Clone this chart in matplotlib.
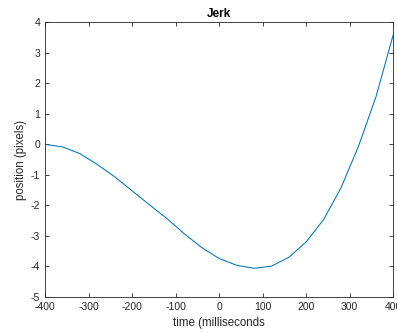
import matplotlib
matplotlib.use("Agg")
import matplotlib.pyplot as plt

# sampled every 40 ms
time_ms = [-400, -360, -320, -280, -240, -200, -160, -120, -80, -40, 0,
           40, 80, 120, 160, 200, 240, 280, 320, 360, 400]
position = [0.0, -0.08, -0.3, -0.66, -1.06, -1.52, -1.98, -2.43, -2.93, -3.38, -3.74,
            -3.96, -4.06, -3.99, -3.7, -3.19, -2.46, -1.42, -0.06, 1.55, 3.6]

xticks = list(range(-400, 401, 100))
yticks = list(range(-5, 5))

plt.rcParams['font.family'] = ['Liberation Sans', 'DejaVu Sans']
plt.rcParams['font.size'] = 7.5
plt.rcParams['axes.unicode_minus'] = False

fig = plt.figure(figsize=(3.97, 3.32), dpi=100)
ax = fig.add_axes([0.1134, 0.1054, 0.8773, 0.8274])

ax.plot(time_ms, position, color='#0072BD', lw=0.75)

ax.set_xlim(-400, 400)
ax.set_ylim(-5, 4)
ax.set_xticks(xticks)
ax.set_yticks(yticks)

axcol = '#262626'
for s in ax.spines.values():
    s.set_color(axcol)
    s.set_linewidth(0.6)
ax.tick_params(direction='in', top=True, right=True, length=3, width=0.6,
               color=axcol, labelcolor=axcol, pad=3.5)

ax.set_title('Jerk', fontweight='bold', fontsize=8.5, color='black', pad=4)
ax.set_xlabel('time (milliseconds', fontsize=8.3, color=axcol, labelpad=4)
ax.set_ylabel('position (pixels)', fontsize=8.3, color=axcol, labelpad=3)

fig.savefig('out.png', dpi=100)
